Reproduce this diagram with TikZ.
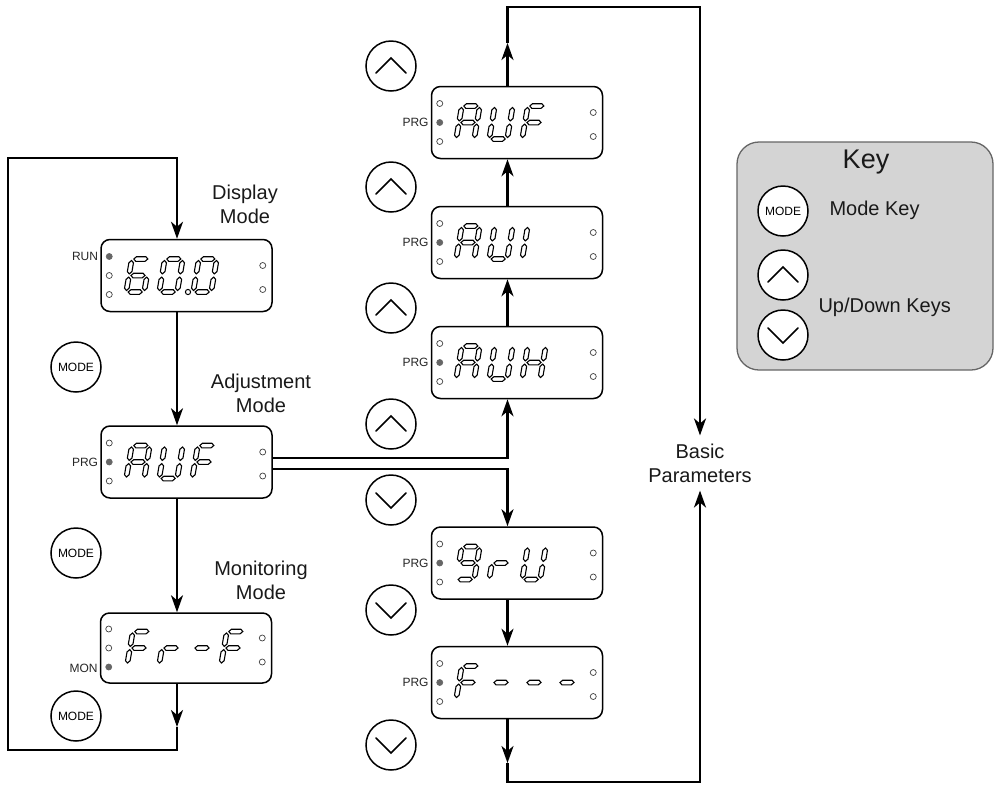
\documentclass[tikz,border=0pt]{standalone}
\usepackage{fontspec}
\setmainfont{Liberation Sans}
\usetikzlibrary{arrows.meta,calc}
\tikzset{
  conn/.style={line width=2.5pt, draw=black},
  arr/.style={-{Stealth[length=17pt,width=12pt,inset=5pt]}},
  disp/.style={draw, line width=1.5pt, rounded corners=9pt, minimum width=171pt, minimum height=72pt, inner sep=0pt},
  segp/.style={draw=black, fill=white, line width=1.1pt, line join=miter},
  led/.style={draw=black!75, line width=0.7pt, fill=white, circle, inner sep=0pt, minimum size=6pt},
  ledon/.style={led, fill=black!60, draw=black!60},
  btn/.style={draw, circle, line width=1.5pt, fill=white, minimum size=50pt, inner sep=0pt, font=\fontsize{12}{13}\selectfont},
  chev/.style={line width=1.5pt, line cap=round, line join=miter},
  lbl/.style={font=\fontsize{20}{24}\selectfont, align=center, text=black!90},
  ind/.style={font=\fontsize{12}{13}\selectfont, anchor=east, inner sep=1pt, text=black!85},
}
% horizontal segment: x1, x2, y ; vertical segment: x, y1, y2
\newcommand\hsg[3]{\draw[segp] (#1,#3) -- ({#1+2.3},{#3-2.3}) -- ({#2-2.3},{#3-2.3}) -- (#2,#3) -- ({#2-2.3},{#3+2.3}) -- ({#1+2.3},{#3+2.3}) -- cycle;}
\newcommand\vsg[3]{\draw[segp] (#1,#2) -- ({#1+2.3},{#2+2.3}) -- ({#1+2.3},{#3-2.3}) -- (#1,#3) -- ({#1-2.3},{#3-2.3}) -- ({#1-2.3},{#2+2.3}) -- cycle;}
\def\sga{\hsg{-7}{7}{-16.5}}
\def\sgb{\vsg{9}{-15}{-1.6}}
\def\sgc{\vsg{9}{1.6}{15}}
\def\sgd{\hsg{-7}{7}{16.5}}
\def\sge{\vsg{-9}{1.6}{15}}
\def\sgf{\vsg{-9}{-15}{-1.6}}
\def\sgg{\hsg{-7}{7}{0}}
\newcommand\sdigit[2]{\begin{scope}[shift={#1},xslant=0.17]\foreach \s in {#2}{\csname sg\s\endcsname}\end{scope}}
\newcommand\leds[2]{%
  \foreach \k/\dy in {1/-19,2/0,3/19}{%
    \ifnum\k=#2\relax
      \node[ledon] (#1-l\k) at ($(#1.west)+(9,\dy)$) {};
    \else
      \node[led] (#1-l\k) at ($(#1.west)+(9,\dy)$) {};
    \fi}%
  \node[led] (#1-r1) at ($(#1.east)+(-10,-10)$) {};
  \node[led] (#1-r2) at ($(#1.east)+(-10,14)$) {};
}
\newcommand\upchev[1]{\draw[chev] ($(#1)+(-15,7)$) -- ($(#1)+(0,-8)$) -- ($(#1)+(15,7)$);}
\newcommand\dnchev[1]{\draw[chev] ($(#1)+(-15,-7)$) -- ($(#1)+(0,8)$) -- ($(#1)+(15,-7)$);}
\begin{document}
\begin{tikzpicture}[x=1pt,y=-1pt]
\useasboundingbox (0,0) rectangle (997,788);

% display boxes
\node[disp] (d1) at (186.5,275.5) {};
\node[disp] (d2) at (186.5,462) {};
\node[disp, minimum height=70pt] (d3) at (186,648) {};
\node[disp] (m1) at (517,122.5) {};
\node[disp] (m2) at (517,242.5) {};
\node[disp] (m3) at (517,362.5) {};
\node[disp] (m4) at (517,563) {};
\node[disp] (m5) at (517,682.5) {};

% leds
\leds{d1}{1}
\leds{d2}{2}
\leds{d3}{3}
\leds{m1}{2}
\leds{m2}{2}
\leds{m3}{2}
\leds{m4}{2}
\leds{m5}{2}

% indicator labels
\node[ind] (trun) at ($(d1.west)+(-1,-19)$) {RUN};
\node[ind] (tprg) at ($(d2.west)+(-1,0)$) {PRG};
\node[ind] (tmon) at ($(d3.west)+(-1,20)$) {MON};
\foreach \m in {m1,m2,m3,m4,m5}{\node[ind] (\m-prg) at ($(\m.west)+(-1,0)$) {PRG};}

% digits
\sdigit{(138,275.5)}{a,c,d,e,f,g}
\sdigit{(171,275.5)}{a,b,c,d,e,f}
\sdigit{(205,275.5)}{a,b,c,d,e,f}
\draw[line width=1pt, fill=white] (188,292) circle (2.6pt);

\sdigit{(138,462)}{a,b,c,e,f,g}
\sdigit{(171,462)}{b,c,d,e,f}
\sdigit{(204,462)}{a,e,f,g}

\sdigit{(139,648)}{a,e,f,g}
\sdigit{(171,648)}{e,g}
\sdigit{(202,648)}{g}
\sdigit{(233,648)}{a,e,f,g}

\sdigit{(468,122.5)}{a,b,c,e,f,g}
\sdigit{(501,122.5)}{b,c,d,e,f}
\sdigit{(534,122.5)}{a,e,f,g}

\sdigit{(468,242.5)}{a,b,c,e,f,g}
\sdigit{(501,242.5)}{b,c,d,e,f}
\sdigit{(534,242.5)}{e,f}

\sdigit{(468,362.5)}{a,b,c,e,f,g}
\sdigit{(501,362.5)}{b,c,d,e,f}
\sdigit{(534,362.5)}{b,c,e,f,g}

\sdigit{(468,563)}{a,b,c,d,f,g}
\sdigit{(501,563)}{e,g}
\sdigit{(534,563)}{b,c,d,e,f}

\sdigit{(468,682.5)}{a,e,f,g}
\sdigit{(501,682.5)}{g}
\sdigit{(534,682.5)}{g}
\sdigit{(567,682.5)}{g}

% labels
\node[lbl] (tdisp) at (245,204) {Display\\Mode};
\node[lbl] (tadj) at (261,393) {Adjustment\\Mode};
\node[lbl] (tmonm) at (261,580) {Monitoring\\Mode};
\node[lbl, inner ysep=8pt] (bp) at (700,463) {Basic\\Parameters};

% column coordinates
\coordinate (lx) at (177,0);
\coordinate (mx) at (507.5,0);

% left loop
\coordinate (lma) at (177,727);
\coordinate (lb) at (177,750);
\coordinate (lbl) at (8,750);
\coordinate (ltl) at (8,158);
\coordinate (lt) at (177,158);
\draw[conn,arr] (lx|-d3.south) -- (lma);
\draw[conn,arr] (lma) -- (lb) -- (lbl) -- (ltl) -- (lt) -- (lx|-d1.north);
\draw[conn,arr] (lx|-d1.south) -- (lx|-d2.north);
\draw[conn,arr] (lx|-d2.south) -- (lx|-d3.north);

% middle column
\coordinate (mta) at (507.5,43);
\coordinate (mt) at (507.5,7);
\coordinate (rt) at (700,7);
\coordinate (mba) at (507.5,763);
\coordinate (mb) at (507.5,782);
\coordinate (rb) at (700,782);
\draw[conn,arr] (mx|-m1.north) -- (mta);
\draw[conn,arr] (mta) -- (mt) -- (rt) -- (bp.north);
\draw[conn,arr] (mx|-m5.south) -- (mba);
\draw[conn,arr] (mba) -- (mb) -- (rb) -- (bp.south);
\draw[conn,arr] (mx|-m3.north) -- (mx|-m2.south);
\draw[conn,arr] (mx|-m2.north) -- (mx|-m1.south);
\draw[conn,arr] (mx|-m4.south) -- (mx|-m5.north);

% branches from adjustment mode
\coordinate (c1) at (507.5,458);
\coordinate (c2) at (507.5,469);
\draw[conn,arr] (d2.east|-c1) -- (c1) -- (mx|-m3.south);
\draw[conn,arr] (d2.east|-c2) -- (c2) -- (mx|-m4.north);

% mode buttons
\node[btn] (b1) at (76,367) {MODE};
\node[btn] (b2) at (76,553) {MODE};
\node[btn] (b3) at (76,716) {MODE};

% up/down buttons
\node[btn] (u1) at (391,66) {};
\node[btn] (u2) at (391,187) {};
\node[btn] (u3) at (391,308) {};
\node[btn] (u4) at (391,424) {};
\node[btn] (v1) at (391,500) {};
\node[btn] (v2) at (391,610) {};
\node[btn] (v3) at (391,745) {};
\upchev{u1}\upchev{u2}\upchev{u3}\upchev{u4}
\dnchev{v1}\dnchev{v2}\dnchev{v3}

% key box
\node[draw=black!60, fill=black!17, line width=1.3pt, rounded corners=22pt, minimum width=256pt, minimum height=228pt, inner sep=0pt] (key) at (865,256) {};
\node[font=\fontsize{27}{30}\selectfont, text=black!90] (kt) at (866,162) {Key};
\node[btn] (km) at (783,211) {MODE};
\node[lbl, anchor=west] (kmt) at (826,210) {Mode Key};
\node[btn] (ku) at (783,275) {};
\node[btn] (kd) at (783,335) {};
\upchev{ku}\dnchev{kd}
\node[lbl, anchor=west] (kud) at (815,307) {Up/Down Keys};
\end{tikzpicture}
\end{document}
